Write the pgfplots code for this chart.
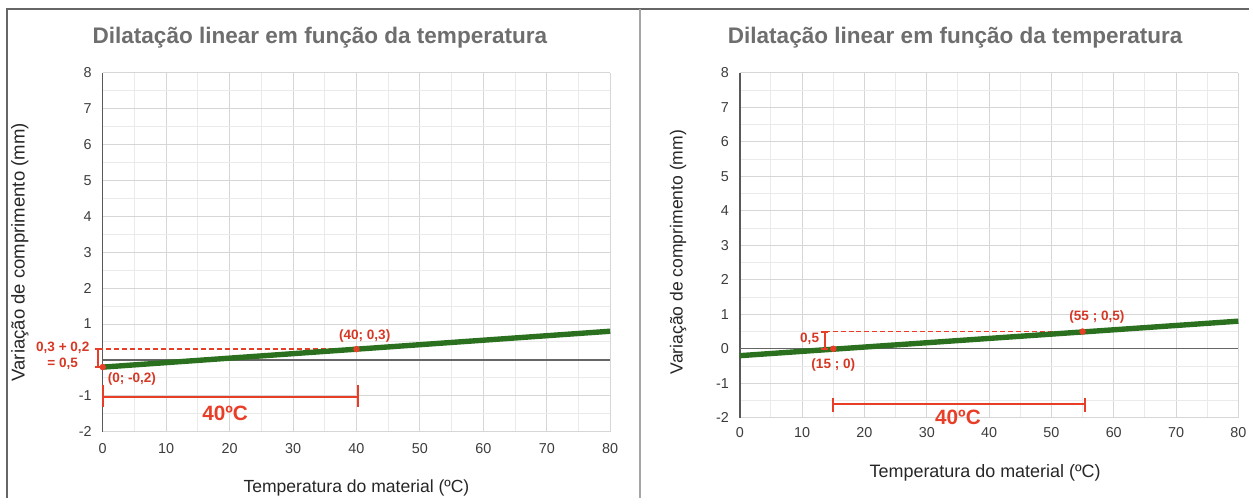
\documentclass[border=0pt]{standalone}
\usepackage{fontspec}
\setmainfont{Liberation Sans}
\usepackage{pgfplots}
\pgfplotsset{compat=1.18}

\definecolor{linegreen}{RGB}{42,112,30}
\definecolor{annred}{RGB}{232,62,40}
\definecolor{titlegray}{RGB}{110,110,110}
\definecolor{tickgray}{RGB}{60,60,60}
\definecolor{gridmajor}{RGB}{214,214,214}
\definecolor{gridminor}{RGB}{234,234,234}

% 1 px of the reference = 0.5pt
\pgfplotsset{
  every axis title shift=0pt,
  dilat/.style={
    scale only axis,
    anchor=south west,
    xmin=0, xmax=80, ymin=-2, ymax=8,
    xtick={0,10,...,80}, ytick={-2,-1,...,8},
    minor x tick num=1, minor y tick num=1,
    grid=both,
    major grid style={gridmajor, line width=0.5pt},
    minor grid style={gridminor, line width=0.5pt},
    major tick length=0pt, minor tick length=0pt,
    axis line style={draw=none},
    tick label style={font=\fontsize{7.2}{8}\selectfont, text=tickgray},
    yticklabel style={xshift=-2pt},
    /pgf/number format/assume math mode=true,
    label style={text=black!85},
    title style={font=\fontsize{11.3}{13}\selectfont\bfseries, text=titlegray, anchor=center},
    xlabel style={anchor=center},
    ylabel style={anchor=center},
    clip=false,
  },
}
\tikzset{
  ann/.style={font=\fontsize{6.8}{8}\selectfont\bfseries, text=annred!92!black},
  big/.style={font=\fontsize{10.4}{12}\selectfont\bfseries, text=annred},
  bar/.style={annred, line width=1pt},
  guide/.style={annred, dash pattern=on 2.5pt off 1.5pt, line width=0.7pt},
}

\begin{document}
\begin{tikzpicture}
\path (0,0) rectangle (626.5pt,249.5pt);

% ---------------- left chart ----------------
\begin{axis}[dilat, at={(51.5pt,33pt)}, width=254.5pt, height=180pt,
  xticklabel style={yshift=-2.5pt},
  yticklabels={-2,-1,,1,2,3,4,5,6,7,8},
  title={Dilatação linear em função da temperatura},
  title style={at={(axis description cs:0.428,1.097)}},
  xlabel={Temperatura do material (ºC)},
  xlabel style={at={(axis description cs:0.5,-0.158)}, font=\fontsize{8.8}{10}\selectfont},
  ylabel={Variação de comprimento (mm)},
  ylabel style={at={(axis description cs:-0.163,0.5)}, font=\fontsize{9.3}{10}\selectfont},
]
\draw[black!65, line width=0.8pt] (rel axis cs:0,0) -- (rel axis cs:0,1);
\draw[black!60, line width=0.7pt] (axis cs:0,0) -- (axis cs:80,0);
\addplot[guide] coordinates {(-0.8,0.3) (40,0.3)};
\addplot[linegreen, line width=2.7pt] coordinates {(0,-0.2) (80,0.8)};
\addplot[only marks, mark=*, mark size=1.4pt, annred] coordinates {(0,-0.2) (40,0.3)};
% interval bars
\addplot[bar] coordinates {(-0.8,0.3) (-0.8,-0.2)};
\addplot[bar] coordinates {(-1.2,0.3) (-0.4,0.3)};
\addplot[bar] coordinates {(-1.2,-0.2) (-0.4,-0.2)};
\addplot[bar] coordinates {(0,-1.02) (40.3,-1.02)};
\addplot[bar] coordinates {(0,-0.69) (0,-1.31)};
\addplot[bar] coordinates {(40.3,-0.69) (40.3,-1.31)};
\node[ann] at (axis cs:41.3,0.67) {(40; 0,3)};
\node[ann] at (axis cs:4.6,-0.53) {(0; -0,2)};
\node[ann, align=center] at (axis cs:-6.3,0.11) {0,3 + 0,2\\= 0,5};
\node[big] at (axis cs:19.3,-1.5) {40ºC};
\end{axis}

% ---------------- right chart ----------------
\begin{axis}[dilat, at={(371pt,40pt)}, width=250pt, height=173pt,
  xticklabel style={yshift=-1.5pt},
  title={Dilatação linear em função da temperatura},
  title style={at={(axis description cs:0.432,1.101)}},
  xlabel={Temperatura do material (ºC)},
  xlabel style={at={(axis description cs:0.492,-0.159)}, font=\fontsize{9}{10}\selectfont},
  ylabel={Variação de comprimento (mm)},
  ylabel style={at={(axis description cs:-0.124,0.48)}, font=\fontsize{8.8}{10}\selectfont},
]
\draw[black!65, line width=0.8pt] (rel axis cs:0,0) -- (rel axis cs:0,1);
\draw[black!60, line width=0.7pt] (axis cs:0,0) -- (axis cs:80,0);
\addplot[guide] coordinates {(13.6,0.5) (55,0.5)};
\addplot[linegreen, line width=2.7pt] coordinates {(0,-0.2) (80,0.8)};
\addplot[only marks, mark=*, mark size=1.4pt, annred] coordinates {(15,0) (55,0.5)};
\addplot[bar] coordinates {(13.6,0.5) (13.6,0)};
\addplot[bar] coordinates {(13.0,0.5) (14.2,0.5)};
\addplot[bar] coordinates {(13.0,0) (14.2,0)};
\addplot[bar] coordinates {(15,-1.6) (55.4,-1.6)};
\addplot[bar] coordinates {(15,-1.42) (15,-1.82)};
\addplot[bar] coordinates {(55.4,-1.42) (55.4,-1.82)};
\node[ann] at (axis cs:57.3,0.93) {(55 ; 0,5)};
\node[ann] at (axis cs:15,-0.47) {(15 ; 0)};
\node[ann] at (axis cs:11.2,0.28) {0,5};
\node[big] at (axis cs:35,-2.0) {40ºC};
\end{axis}

% frames
\draw[black!60, line width=0.8pt] (3.5pt,0pt) -- (3.5pt,245pt) -- (626.5pt,245pt);
\draw[black!35, line width=1.1pt] (321pt,0pt) -- (321pt,245pt);
\end{tikzpicture}
\end{document}
